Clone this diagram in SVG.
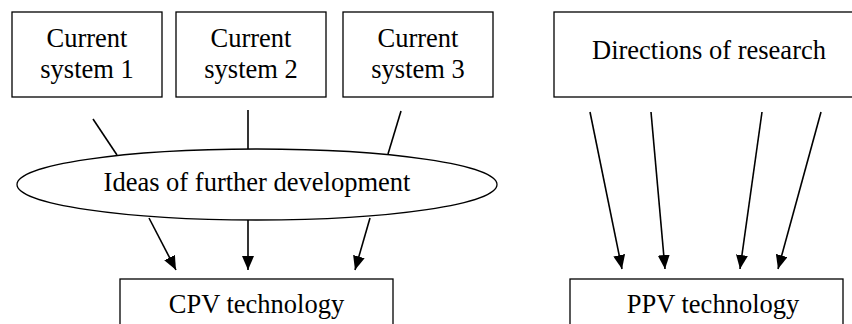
<svg xmlns="http://www.w3.org/2000/svg" width="852" height="324" viewBox="0 0 852 324">
<defs>
<style>
.box{fill:#fff;stroke:#000;stroke-width:1.3}
.ln{stroke:#000;stroke-width:1.6;fill:none}
text{font-family:"Liberation Serif","Times New Roman",serif;font-size:26.5px;fill:#000;text-anchor:middle}
</style>
<marker id="arr" markerWidth="14" markerHeight="12" viewBox="0 0 14 12" refX="14" refY="6" orient="auto" markerUnits="userSpaceOnUse">
<path d="M0,0 L14,6 L0,12 Z" fill="#000"/>
</marker>
</defs>
<rect width="852" height="324" fill="#fff"/>
<g id="connectors">
<line class="ln" x1="93" y1="119" x2="117" y2="155"/>
<line class="ln" x1="248" y1="110" x2="248" y2="149"/>
<line class="ln" x1="401" y1="111" x2="388" y2="154"/>
<line class="ln" x1="149" y1="218" x2="176" y2="270" marker-end="url(#arr)"/>
<line class="ln" x1="248" y1="220" x2="248" y2="270" marker-end="url(#arr)"/>
<line class="ln" x1="370" y1="218" x2="355" y2="270" marker-end="url(#arr)"/>
<line class="ln" x1="590" y1="112" x2="622" y2="269" marker-end="url(#arr)"/>
<line class="ln" x1="651" y1="112" x2="665" y2="269" marker-end="url(#arr)"/>
<line class="ln" x1="762" y1="112" x2="740" y2="269" marker-end="url(#arr)"/>
<line class="ln" x1="821" y1="112" x2="778" y2="269" marker-end="url(#arr)"/>
</g>
<g id="cs1"><rect class="box" x="12" y="12" width="150" height="85"/><text x="87" y="47">Current</text><text x="87" y="78">system 1</text></g>
<g id="cs2"><rect class="box" x="176" y="12" width="150" height="85"/><text x="251" y="47">Current</text><text x="251" y="78">system 2</text></g>
<g id="cs3"><rect class="box" x="343" y="12" width="150" height="85"/><text x="418" y="47">Current</text><text x="418" y="78">system 3</text></g>
<g id="ideas"><ellipse class="box" cx="257" cy="184.5" rx="240" ry="35.5"/><text x="257" y="191">Ideas of further development</text></g>
<g id="cpv"><rect class="box" x="120" y="279" width="273" height="60"/><text x="256.5" y="313">CPV technology</text></g>
<g id="dir"><rect class="box" x="554" y="12" width="310" height="85"/><text x="709" y="59">Directions of research</text></g>
<g id="ppv"><rect class="box" x="570" y="279" width="273" height="60"/><text x="713" y="313">PPV technology</text></g>
</svg>
